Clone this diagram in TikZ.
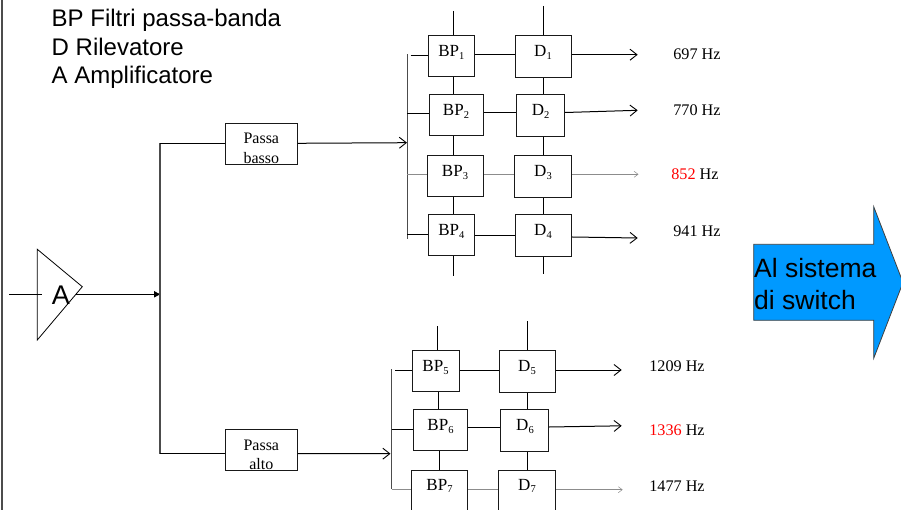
\documentclass[tikz,border=0pt]{standalone}
\usepackage{fontspec}
\setmainfont{Liberation Serif}
\newfontfamily\arl{Liberation Sans}
\usetikzlibrary{arrows.meta}
\definecolor{blueArrow}{HTML}{0099FF}
\newcommand\sbs[1]{\raisebox{-0.35ex}{\fontsize{10.5}{10.5}\selectfont #1}}
\tikzset{
  boxs/.style={draw=black!90,line width=1pt,fill=white,inner sep=0pt},
  lbl/.style={inner sep=0pt,anchor=base,font=\fontsize{17}{17}\selectfont},
  plbl/.style={inner sep=0pt,anchor=base,font=\fontsize{16}{16}\selectfont},
  hz/.style={inner sep=0pt,anchor=base,font=\fontsize{16.2}{16.2}\selectfont},
  sans/.style={inner sep=0pt,anchor=base west,font=\arl\fontsize{24}{24}\selectfont},
  wire/.style={line width=1pt,black},
  bus/.style={line width=1.2pt,black!70},
  faint/.style={line width=0.7pt,black!45},
  opn/.style={-{Straight Barb[length=7pt,width=11pt,line width=0.9pt]}},
  opnf/.style={-{Straight Barb[length=4pt,width=6pt,line width=0.5pt]}},
}
\begin{document}
\begin{tikzpicture}[x=1pt,y=-1pt]
\clip (0,0) rectangle (901,510);
\fill[white] (0,0) rectangle (901,510);
% left border
\coordinate (bt) at (2,0); \coordinate (bb) at (2,510);
\draw[bus] (bt) -- (bb);
% legend
\node[sans] (l1) at (51.5,27) {BP Filtri passa-banda};
\node[sans] (l2) at (51.5,55.3) {D Rilevatore};
\node[sans] (l3) at (51.5,83.6) {A Amplificatore};
% amplifier
\coordinate (a1) at (37.3,249.3);
\coordinate (a2) at (82.3,286.7);
\coordinate (a3) at (37.3,340);
\coordinate (ain) at (9.3,294.3);
\coordinate (ainEnd) at (42,294.3);
\coordinate (aout) at (76,294.3);
\coordinate (j) at (161,294.3);
\coordinate (jt) at (160,143.3);
\coordinate (jb) at (160,453.5);
\draw[line width=0.8pt] (a1) -- (a2) -- (a3) -- cycle;
\draw[line width=0.8pt] (ain) -- (ainEnd);
\node[sans,font=\arl\fontsize{27}{27}\selectfont,anchor=base] (atxt) at (61,304) {A};
\draw[wire,-{Latex[length=7pt,width=7pt]}] (aout) -- (j);
\draw[bus] (jt) -- (jb);
% passa boxes
\node[boxs,minimum width=72pt,minimum height=41pt] (pb) at (261.3,143.8) {};
\node[boxs,minimum width=72pt,minimum height=41.4pt] (pa) at (261.3,450) {};
\node[plbl] (pbt1) at (261.3,144) {Passa};
\node[plbl] (pbt2) at (261.3,164) {basso};
\node[plbl] (pat1) at (261.3,450) {Passa};
\node[plbl] (pat2) at (261.3,469.5) {alto};
\draw[wire] (jt) -- (jt -| pb.west);
\draw[wire] (jb) -- (jb -| pa.west);
% upper bank
\coordinate (bu1) at (407.3,54.3); \coordinate (bu2) at (407.3,239);
\coordinate (bum) at (407,142.7);
\coordinate (bl1) at (391.7,369.3); \coordinate (bl2) at (391.7,489.3);
\coordinate (blm) at (390.5,453.7);
\draw[wire,opn] (pb.east |- jt) -- (bum);
\draw[wire,opn] (pa.east |- jb) -- (blm);
\draw[bus] (bu1) -- (bu2);
\draw[bus] (bl1) -- (bl2);
% boxes
\node[boxs,minimum width=46.4pt,minimum height=41.4pt] (bp1) at (451.5,56) {};
\node[boxs,minimum width=56pt,minimum height=42.4pt] (d1) at (543.7,56.5) {};
\node[boxs,minimum width=54.4pt,minimum height=41.4pt] (bp2) at (456.5,115) {};
\node[boxs,minimum width=48pt,minimum height=42.4pt] (d2) at (540.7,115.5) {};
\node[boxs,minimum width=56.4pt,minimum height=41.4pt] (bp3) at (455.5,176) {};
\node[boxs,minimum width=57pt,minimum height=42.4pt] (d3) at (543.2,176.5) {};
\node[boxs,minimum width=46.4pt,minimum height=41.4pt] (bp4) at (451.5,235) {};
\node[boxs,minimum width=56pt,minimum height=42.4pt] (d4) at (543.7,235.5) {};
\node[boxs,minimum width=46.7pt,minimum height=41.4pt] (bp5) at (435.7,371) {};
\node[boxs,minimum width=56pt,minimum height=42.4pt] (d5) at (527.7,371.5) {};
\node[boxs,minimum width=54pt,minimum height=41.4pt] (bp6) at (440.7,430) {};
\node[boxs,minimum width=48pt,minimum height=42.4pt] (d6) at (524.7,430.5) {};
\node[boxs,minimum width=56pt,minimum height=42pt] (bp7) at (439.7,491.3) {};
\node[boxs,minimum width=57pt,minimum height=43pt] (d7) at (527.2,491.8) {};
% box labels
\node[lbl] (tb1) at (451.3,56.5) {BP\sbs1};
\node[lbl] (td1) at (543,56.5) {D\sbs1};
\node[lbl] (tb2) at (456,115.5) {BP\sbs2};
\node[lbl] (td2) at (540.7,115.5) {D\sbs2};
\node[lbl] (tb3) at (455,176.8) {BP\sbs3};
\node[lbl] (td3) at (543,176.8) {D\sbs3};
\node[lbl] (tb4) at (451.3,235.5) {BP\sbs4};
\node[lbl] (td4) at (543,235.5) {D\sbs4};
\node[lbl] (tb5) at (435.5,371.5) {BP\sbs5};
\node[lbl] (td5) at (527,371.5) {D\sbs5};
\node[lbl] (tb6) at (440.5,430.5) {BP\sbs6};
\node[lbl] (td6) at (525,430.5) {D\sbs6};
\node[lbl] (tb7) at (439.5,490) {BP\sbs7};
\node[lbl] (td7) at (527,490) {D\sbs7};
% vertical control lines
\coordinate (vb1) at (453.3,11); \coordinate (vb2) at (453.3,276);
\coordinate (vd1) at (543.3,6); \coordinate (vd2) at (543.3,274);
\coordinate (vb3) at (437.7,326); \coordinate (vd3) at (527.3,321);
\draw[wire] (vb1) -- (vb1 |- bp1.north);
\draw[wire] (vb1 |- bp1.south) -- (vb1 |- bp2.north);
\draw[wire] (vb1 |- bp2.south) -- (vb1 |- bp3.north);
\draw[wire] (vb1 |- bp3.south) -- (vb1 |- bp4.north);
\draw[wire] (vb1 |- bp4.south) -- (vb2);
\draw[wire] (vd1) -- (vd1 |- d1.north);
\draw[wire] (vd1 |- d1.south) -- (vd1 |- d2.north);
\draw[wire] (vd1 |- d2.south) -- (vd1 |- d3.north);
\draw[wire] (vd1 |- d3.south) -- (vd1 |- d4.north);
\draw[wire] (vd1 |- d4.south) -- (vd2);
\draw[wire] (vb3) -- (vb3 |- bp5.north);
\draw[wire] ([xshift=0.6pt]vb3 |- bp5.south) -- ([xshift=0.6pt]vb3 |- bp6.north);
\draw[wire] ([xshift=1.6pt]vb3 |- bp6.south) -- ([xshift=1.6pt]vb3 |- bp7.north);
\draw[wire] (vd3) -- (vd3 |- d5.north);
\draw[wire] (vd3 |- d5.south) -- (vd3 |- d6.north);
\draw[wire] (vd3 |- d6.south) -- (vd3 |- d7.north);
% row wires
\coordinate (r1) at (410.7,55.3);
\coordinate (r2) at (407.3,114);
\coordinate (r3) at (407.3,174.3);
\coordinate (r4) at (407.3,234.3);
\coordinate (r5) at (395,370.7);
\coordinate (r6) at (391.7,429.3);
\coordinate (r7) at (391.7,489.3);
\draw[wire] (r1) -- (r1 -| bp1.west);
\draw[wire] (r2) -- (r2 -| bp2.west);
\draw[faint] (r3) -- (r3 -| bp3.west);
\draw[wire] (r4) -- (r4 -| bp4.west);
\draw[wire] (r5) -- (r5 -| bp5.west);
\draw[wire] (r6) -- (r6 -| bp6.west);
\draw[faint] (r7) -- (r7 -| bp7.west);
\coordinate (m1) at (500,55);
\coordinate (m2) at (500,112.5);
\coordinate (m3) at (500,174.3);
\coordinate (m4) at (500,235.5);
\coordinate (m5) at (480,370.3);
\coordinate (m6) at (480,427.7);
\coordinate (m7) at (480,489.5);
\draw[wire] (m1 -| bp1.east) -- (m1 -| d1.west);
\draw[wire] (m2 -| bp2.east) -- (m2 -| d2.west);
\draw[faint] (m3 -| bp3.east) -- (m3 -| d3.west);
\draw[wire] (m4 -| bp4.east) -- (m4 -| d4.west);
\draw[wire] (m5 -| bp5.east) -- (m5 -| d5.west);
\draw[wire] (m6 -| bp6.east) -- (m6 -| d6.west);
\draw[faint] (m7 -| bp7.east) -- (m7 -| d7.west);
% outputs
\coordinate (o1) at (637.7,54.7);
\coordinate (o2) at (637.7,110.3);
\coordinate (o3) at (638.5,174.3);
\coordinate (o4) at (637.7,238);
\coordinate (o5) at (621.7,370);
\coordinate (o6) at (621.7,425.8);
\coordinate (o7) at (622.7,489.7);
\draw[wire,opn] (o1 -| d1.east) -- (o1);
\draw[wire,opn] (d2.east |- m2) -- (o2);
\draw[faint,opnf] (o3 -| d3.east) -- (o3);
\draw[wire,opn] (d4.east |- 0,237) -- (o4);
\draw[wire,opn] (o5 -| d5.east) -- (o5);
\draw[wire,opn] (d6.east |- 0,427) -- (o6);
\draw[faint,opnf] (o7 -| d7.east) -- (o7);
% frequencies
\node[hz] (f1) at (697,59.5) {697 Hz};
\node[hz] (f2) at (697,115.5) {770 Hz};
\node[hz] (f3) at (695,179.5) {\textcolor{red}{852} Hz};
\node[hz] (f4) at (697,236.5) {941 Hz};
\node[hz] (f5) at (677,371.5) {1209 Hz};
\node[hz] (f6) at (677,435.5) {\textcolor{red}{1336} Hz};
\node[hz] (f7) at (677,491.5) {1477 Hz};
% block arrow
\path[draw=black!75,line width=0.8pt,fill=blueArrow] (753.7,244.3) -- (873.7,244.3) -- (873.7,206.7) -- (903,282.5) -- (873.7,358.3) -- (873.7,320.3) -- (753.7,320.3) -- cycle;
\node[sans,font=\arl\fontsize{26.5}{26.5}\selectfont] (s1) at (754,277) {Al sistema};
\node[sans,font=\arl\fontsize{26.5}{26.5}\selectfont] (s2) at (754,309) {di switch};
\end{tikzpicture}
\end{document}
